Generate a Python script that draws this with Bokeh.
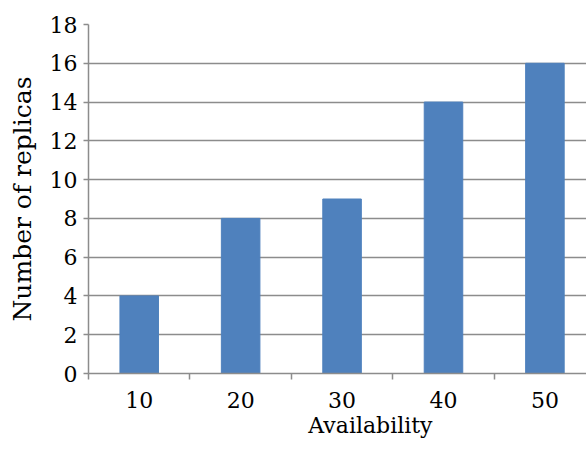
from bokeh.plotting import figure
from bokeh.models import FixedTicker, Range1d, ColumnDataSource, LinearAxis
from bokeh.embed import file_html
from bokeh.resources import INLINE

# Number of replicas needed for each availability level
availability = ["10", "20", "30", "40", "50"]
replicas = [4, 8, 9, 14, 16]
y_ticks = [0, 2, 4, 6, 8, 10, 12, 14, 16, 18]

positions = list(range(1, len(availability) + 1))
source = ColumnDataSource(data=dict(x=positions, top=replicas))

FONT = "DejaVu Serif"
GRID = "#8c8c8c"

p = figure(width=586, height=450, output_backend="svg", toolbar_location=None,
           x_range=Range1d(0.5, 5.41), y_range=Range1d(0, 18),
           min_border_left=88, min_border_top=24, min_border_bottom=77,
           min_border_right=0)
p.outline_line_color = None

p.vbar(x="x", top="top", width=0.38, source=source,
       fill_color="#4F81BD", line_color="#4F81BD")

# x axis: labels at bar centres, tick marks between categories
p.xaxis.ticker = FixedTicker(ticks=positions,
                             minor_ticks=[0.5, 1.5, 2.5, 3.5, 4.5])
p.xaxis.major_label_overrides = {pos: lab for pos, lab in zip(positions, availability)}
p.xaxis.major_tick_out = 0
p.xaxis.major_tick_in = 0
p.xaxis.minor_tick_out = 6
p.xaxis.minor_tick_in = 0
p.xaxis.minor_tick_line_color = GRID
p.xaxis.minor_tick_line_width = 1.5
p.xaxis.axis_line_color = GRID
p.xaxis.axis_line_width = 1.5
p.xaxis.major_label_standoff = 12
p.xaxis.major_label_text_font = FONT
p.xaxis.major_label_text_font_size = "22px"
p.xaxis.major_label_text_color = "black"

# x axis title, drawn as a single label on a bare second axis below
title_axis = LinearAxis(ticker=FixedTicker(ticks=[3.28], minor_ticks=[]),
                        major_label_overrides={3.28: "Availability"},
                        axis_line_color=None, major_tick_line_color=None,
                        major_tick_in=0, major_tick_out=0,
                        major_label_standoff=2,
                        major_label_text_font=FONT,
                        major_label_text_font_size="22px",
                        major_label_text_color="black")
p.add_layout(title_axis, "below")

p.yaxis.ticker = FixedTicker(ticks=y_ticks, minor_ticks=[])
p.yaxis.major_tick_out = 5
p.yaxis.major_tick_in = 0
p.yaxis.major_tick_line_color = GRID
p.yaxis.major_tick_line_width = 1.5
p.yaxis.axis_line_color = GRID
p.yaxis.axis_line_width = 1.5
p.yaxis.major_label_standoff = 6
p.yaxis.major_label_text_font = FONT
p.yaxis.major_label_text_font_size = "22px"
p.yaxis.major_label_text_color = "black"
p.yaxis.axis_label = "Number of replicas"
p.yaxis.axis_label_text_font = FONT
p.yaxis.axis_label_text_font_size = "25px"
p.yaxis.axis_label_text_font_style = "normal"
p.yaxis.axis_label_text_color = "black"
p.yaxis.axis_label_standoff = 10

p.xgrid.grid_line_color = None
p.ygrid.grid_line_color = GRID
p.ygrid.grid_line_width = 1.5

open("out.html", "w").write(file_html(p, INLINE))
